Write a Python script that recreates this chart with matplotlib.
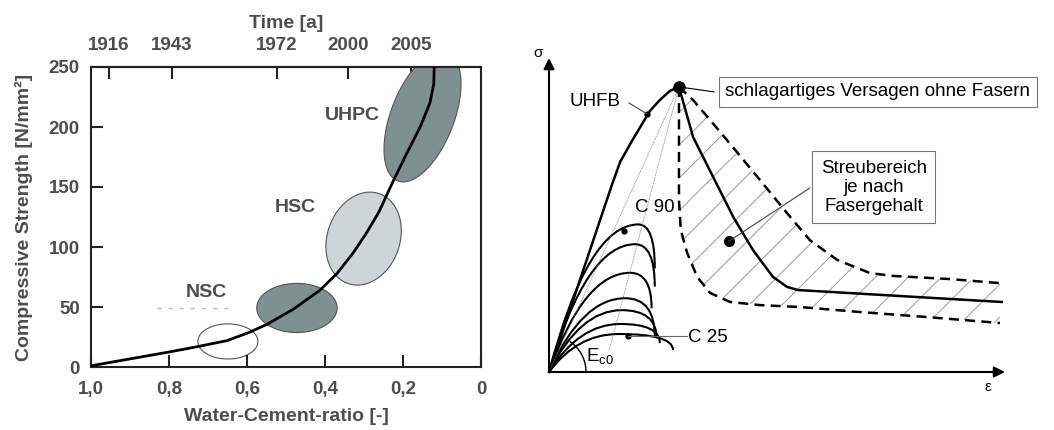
import numpy as np
import matplotlib
matplotlib.use('Agg')
from matplotlib import pyplot as plt
from matplotlib.patches import Polygon, PathPatch
from matplotlib.path import Path

plt.rcParams['font.family'] = ['Liberation Sans', 'DejaVu Sans']

# ---- left chart: strength vs water-cement ratio
wc_curve = [1.0, 0.8, 0.728, 0.651, 0.597, 0.549, 0.482, 0.413, 0.369, 0.328,
            0.295, 0.262, 0.225, 0.192, 0.156, 0.131, 0.121, 0.120]
fc_curve = [1, 12.5, 16.9, 22, 28.5, 35.5, 48, 64, 78, 95,
            111, 129, 155, 177, 200, 220, 236, 250]

wc_ticks = [1.0, 0.8, 0.6, 0.4, 0.2, 0.0]
wc_labels = ['1,0', '0,8', '0,6', '0,4', '0,2', '0']
fc_ticks = [0, 50, 100, 150, 200, 250]
year_pos = [0.954, 0.792, 0.523, 0.341, 0.179]
year_labels = ['1916', '1943', '1972', '2000', '2005']

# ellipses: centre wc, centre fc, semi-axes (in wc units), tilt (deg, on screen)
ell_wc = [0.649, 0.472, 0.301, 0.150]
ell_fc = [21.3, 49.2, 107.0, 208.8]
ell_a = [0.077, 0.103, 0.122, 0.177]
ell_b = [0.045, 0.063, 0.093, 0.081]
ell_tilt = [0, 0, 70.7, 69.0]
ell_col = ['white', '#7f9090', '#cdd6d6', '#7f9090']

class_names = ['NSC', 'HSC', 'UHPC']
class_wc = [0.703, 0.477, 0.331]
class_fc = [61.7, 133, 210]

# ---- right chart: sigma-epsilon sketch
peak_eps, peak_sig = 2.85, 9.08
uhfb_eps = [0, 1.38, 1.56, 1.78, 2.00, 2.21, 2.43, 2.65, 2.85]
uhfb_sig = [0, 5.96, 6.69, 7.26, 7.80, 8.31, 8.66, 8.95, 9.08]
soft_eps = [2.85, 3.16, 3.60, 4.04, 4.47, 4.91, 5.22, 5.46, 9.93]
soft_sig = [9.08, 7.48, 6.21, 4.94, 3.89, 3.03, 2.71, 2.61, 2.23]
lower_eps = [2.85, 2.85, 2.85, 2.89, 3.03, 3.25, 3.53, 3.97, 4.63, 5.50, 6.82, 8.29, 9.89]
lower_sig = [9.08, 7.07, 5.48, 4.52, 3.79, 3.03, 2.52, 2.23, 2.13, 2.07, 1.91, 1.75, 1.56]
upper_eps = [2.85, 3.16, 3.53, 3.90, 4.30, 4.63, 5.22, 5.72, 6.32, 7.04, 7.54, 8.79, 9.89]
upper_sig = [9.08, 8.66, 8.03, 7.39, 6.69, 6.11, 5.06, 4.20, 3.57, 3.15, 3.06, 2.96, 2.83]

# normal concrete curves C90 ... C25
c_ctrl_eps = [0.85, 0.82, 0.77, 0.72, 0.68, 0.66, 0.62]
c_peak_eps = [1.96, 1.89, 1.78, 1.67, 1.59, 1.56, 1.52]
c_peak_sig = [4.70, 4.07, 3.16, 2.35, 1.97, 1.53, 1.21]
c_end_eps = [2.32, 2.32, 2.25, 2.32, 2.36, 2.43, 2.72]
c_end_sig = [3.30, 2.72, 2.03, 1.12, 1.08, 0.92, 0.70]

fig = plt.figure(figsize=(10.54, 4.30), dpi=100)
txt = '#4d4d4d'

ax = fig.add_axes([91/1054, 63/430, 390/1054, 300/430])
ax.set_xlim(1.0, 0.0)
ax.set_ylim(0, 250)

# screen aspect: pixels per MPa over pixels per wc unit
k = (300/250) / 390.0
for cx, cy, a, b, th, col in zip(ell_wc, ell_fc, ell_a, ell_b, ell_tilt, ell_col):
    t = np.linspace(0, 2*np.pi, 200)
    r = np.deg2rad(th)
    u = a*np.cos(t)*np.cos(r) - b*np.sin(t)*np.sin(r)
    v = a*np.cos(t)*np.sin(r) + b*np.sin(t)*np.cos(r)
    ax.add_patch(Polygon(np.column_stack([cx - u, cy + v/k]), closed=True,
                         fc=col, ec='#555555', lw=0.8, zorder=1))

ax.plot(wc_curve, fc_curve, color='black', lw=2.0, zorder=3,
        solid_joinstyle='round')
ax.plot([0.831, 0.638], [49, 49], color='#bbbbbb', lw=1, ls=(0, (3, 5)), zorder=0)

for name, x, y in zip(class_names, class_wc, class_fc):
    ax.text(x, y, name, fontsize=14, fontweight='bold', color=txt,
            ha='center', va='center')

ax.set_xticks(wc_ticks)
ax.set_xticklabels(wc_labels)
ax.set_yticks(fc_ticks)
ax.tick_params(direction='in', length=8.5, width=1.5, labelsize=13.5,
               labelcolor=txt, color='#222222')
ax.tick_params(axis='x', pad=10)
ax.tick_params(axis='y', pad=8)
for lab in ax.get_xticklabels() + ax.get_yticklabels():
    lab.set_fontweight('bold')
for sp in ax.spines.values():
    sp.set_linewidth(1.5)
    sp.set_color('#222222')
ax.set_xlabel('Water-Cement-ratio [-]', fontsize=14, fontweight='bold',
              color=txt, labelpad=7)
ax.set_ylabel('Compressive Strength [N/mm²]', fontsize=14, fontweight='bold',
              color=txt, labelpad=11)

sec = ax.secondary_xaxis('top')
sec.set_xticks(year_pos)
sec.set_xticklabels(year_labels)
sec.tick_params(direction='in', length=8.5, width=1.5, labelsize=13.5,
                labelcolor=txt, color='#222222', pad=9)
for lab in sec.get_xticklabels():
    lab.set_fontweight('bold')
sec.spines['top'].set_linewidth(1.5)
sec.set_xlabel('Time [a]', fontsize=14, fontweight='bold', color=txt, labelpad=7)

# ---- right sketch
ex, sy = 45.6, 31.4   # reference pixels per unit
ax2 = fig.add_axes([530/1054, 30/430, 520/1054, 360/430])
ax2.set_xlim((530-549)/ex, (1050-549)/ex)
ax2.set_ylim((372-400)/sy, (372-40)/sy)
ax2.axis('off')

arrow = dict(arrowstyle='-|>', lw=1.5, color='black', mutation_scale=16,
             shrinkA=0, shrinkB=0)
ax2.annotate('', xy=(0, 10.0), xytext=(0, 0), arrowprops=arrow)
ax2.annotate('', xy=(10.0, 0), xytext=(0, 0), arrowprops=arrow)
ax2.text(-0.24, 10.16, 'σ', fontsize=11, ha='center', va='center')
ax2.text(9.63, -0.48, 'ε', fontsize=11, ha='center', va='center')

# hatched scatter band
band = np.column_stack([upper_eps + lower_eps[::-1], upper_sig + lower_sig[::-1]])
clip = Polygon(band, closed=True, fill=False, ec='none')
ax2.add_patch(clip)
slope = ex / sy
for e0 in np.arange(-5, 10, 0.72):
    ln, = ax2.plot([e0, e0 + 10], [0, 10*slope], color='#9a9a9a', lw=0.7)
    ln.set_clip_path(clip)

ax2.plot(lower_eps, lower_sig, color='black', lw=1.8, ls=(0, (4, 2.5)))
ax2.plot(upper_eps, upper_sig, color='black', lw=1.8, ls=(0, (4, 2.5)))
ax2.plot(soft_eps, soft_sig, color='black', lw=1.8)
ax2.plot(uhfb_eps, uhfb_sig, color='black', lw=1.8)

# thin construction lines
ax2.plot([0, peak_eps], [0, peak_sig], color='#777777', lw=0.6, ls=(0, (1, 1)))
ax2.plot([1.32, peak_eps], [0.70, peak_sig], color='#777777', lw=0.6, ls=(0, (1, 1)))

codes = [Path.MOVETO, Path.CURVE3, Path.CURVE3, Path.CURVE3, Path.CURVE3]
for ce, pe, ps, ee, es in zip(c_ctrl_eps, c_peak_eps, c_peak_sig, c_end_eps, c_end_sig):
    verts = [(0, 0), (ce, ps), (pe, ps), (ee, ps), (ee, es)]
    ax2.add_patch(PathPatch(Path(verts, codes), fill=False, lw=1.5, ec='black'))

# E_c0 arc
ang = np.linspace(0, np.deg2rad(55), 50)
ax2.plot(37/ex*np.cos(ang), 37/sy*np.sin(ang), color='black', lw=1.0)
ax2.text(1.12, 0.48, r'E$_{\mathregular{c0}}$', fontsize=13.5, ha='center', va='center')

# markers and labels
ax2.plot(peak_eps, peak_sig, 'o', color='black', ms=8)
ax2.plot(2.15, 8.22, 'o', color='black', ms=3.5)
ax2.plot([1.75, 2.15], [8.57, 8.22], color='#444444', lw=0.8)
ax2.text(1.01, 8.63, 'UHFB', fontsize=13.5, ha='center', va='center')

ax2.plot(1.65, 4.49, 'o', color='black', ms=3.5)
ax2.text(2.32, 5.25, 'C 90', fontsize=13.5, ha='center', va='center')
ax2.plot(1.74, 1.15, 'o', color='black', ms=3.5)
ax2.plot([1.74, 3.03], [1.15, 1.15], color='#666666', lw=0.8)
ax2.text(3.05, 1.11, 'C 25', fontsize=13.5, ha='left', va='center')

ax2.plot([peak_eps, 3.62], [peak_sig, 8.92], color='black', lw=0.8)
ax2.text(7.21, 8.92, 'schlagartiges Versagen ohne Fasern', fontsize=13.5,
         ha='center', va='center',
         bbox=dict(boxstyle='square,pad=0.35', fc='white', ec='#777777', lw=0.8))

ax2.plot(3.95, 4.17, 'o', color='black', ms=7)
ax2.plot([3.95, 5.72], [4.17, 5.86], color='#444444', lw=0.8)
ax2.text(7.12, 5.88, 'Streubereich\nje nach\nFasergehalt', fontsize=13.5,
         ha='center', va='center', linespacing=1.15,
         bbox=dict(boxstyle='square,pad=0.45', fc='white', ec='#777777', lw=0.8))

fig.savefig('out.png', dpi=100)
